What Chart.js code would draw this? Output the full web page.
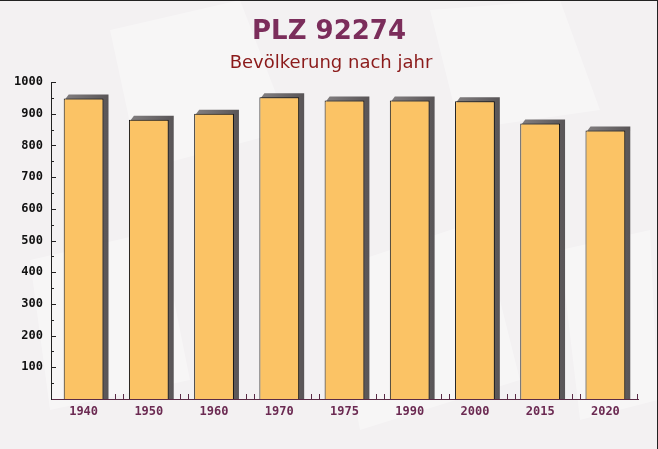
<!DOCTYPE html>
<html>
<head>
<meta charset="utf-8">
<script src="https://cdn.jsdelivr.net/npm/chart.js@4.4.0/dist/chart.umd.min.js"></script>
<style>
html,body{margin:0;padding:0;background:#f4f2f3;}
#wrap{position:relative;width:658px;height:449px;overflow:hidden;}
canvas{display:block;}
#frame{position:absolute;left:0;top:0;width:657px;height:448px;border-top:1px solid #222;border-right:1px solid #222;border-bottom:1px solid #222;box-sizing:content-box;pointer-events:none;}
</style>
</head>
<body>
<div id="wrap"><canvas id="c" width="658" height="449"></canvas><div id="frame"></div></div>
<script>
const titleText = "PLZ 92274";
const subtitleText = "Bevölkerung nach jahr";
const categories = ["1940", "1950", "1960", "1970", "1975", "1990", "2000", "2015", "2020"];
const population = [948, 881, 900, 952, 942, 942, 939, 869, 847];
const yTicks = [100, 200, 300, 400, 500, 600, 700, 800, 900, 1000];

const bgPlugin = {
  id: 'bg',
  beforeDraw(chart) {
    const ctx = chart.ctx;
    ctx.save();
    ctx.fillStyle = '#f3f1f2';
    ctx.fillRect(0, 0, chart.width, chart.height);
    ctx.fillStyle = 'rgba(255,255,255,0.35)';
    const polys = [
      [[110,30],[240,0],[290,130],[140,170]],
      [[430,10],[560,0],[600,110],[460,130]],
      [[30,260],[160,230],[190,380],[50,410]],
      [[330,270],[480,220],[520,380],[360,430]],
      [[560,250],[650,230],[658,400],[580,420]]
    ];
    polys.forEach(p => {
      ctx.beginPath();
      ctx.moveTo(p[0][0], p[0][1]);
      for (let i = 1; i < p.length; i++) ctx.lineTo(p[i][0], p[i][1]);
      ctx.closePath();
      ctx.fill();
    });
    ctx.restore();
  },
  afterDraw(chart) {
    const ctx = chart.ctx;
    ctx.save();
    ctx.textAlign = 'center';
    ctx.textBaseline = 'alphabetic';
    ctx.fillStyle = '#7b2d5b';
    ctx.font = 'bold 26px "DejaVu Sans"';
    ctx.fillText(titleText, 329, 39);
    ctx.fillStyle = '#8b1a1a';
    ctx.font = '18px "DejaVu Sans"';
    ctx.fillText(subtitleText, 331, 68);
    const ys = chart.scales.y, xs = chart.scales.x;
    const ax = chart.chartArea.left;
    ctx.strokeStyle = '#222';
    ctx.lineWidth = 1;
    for (let v = 50; v <= 1000; v += 50) {
      const py = Math.round(ys.getPixelForValue(v)) + 0.5;
      const len = (v % 100 === 0) ? 5 : 3;
      ctx.beginPath();
      ctx.moveTo(ax, py);
      ctx.lineTo(ax + len, py);
      ctx.stroke();
    }
    const by = chart.chartArea.bottom;
    ctx.strokeStyle = '#5a2a45';
    const half = (xs.getPixelForValue(1) - xs.getPixelForValue(0)) / 2;
    for (let i = 0; i < categories.length; i++) {
      const c = xs.getPixelForValue(i);
      [c + half - 1, c + half + 7].forEach(px => {
        if (px > chart.chartArea.right + 1) return;
        const x = Math.round(px) + 0.5;
        ctx.beginPath();
        ctx.moveTo(x, by);
        ctx.lineTo(x, by - 5);
        ctx.stroke();
      });
    }
    ctx.restore();
  }
};

const shadowPlugin = {
  id: 'barShadow',
  beforeDatasetsDraw(chart) {
    const ctx = chart.ctx;
    const meta = chart.getDatasetMeta(0);
    ctx.save();
    meta.data.forEach(bar => {
      const p = bar.getProps(['x', 'y', 'base', 'width'], true);
      const left = p.x - p.width / 2 + 2;
      const right = p.x + p.width / 2 + 5;
      const g = ctx.createLinearGradient(left, 0, right, 0);
      g.addColorStop(0, 'rgba(90,86,88,0.75)');
      g.addColorStop(1, 'rgba(80,76,78,0.95)');
      ctx.fillStyle = g;
      ctx.beginPath();
      ctx.moveTo(left, p.y);
      ctx.lineTo(left + 3, p.y - 4);
      ctx.lineTo(right, p.y - 4);
      ctx.lineTo(right, p.base);
      ctx.lineTo(left, p.base);
      ctx.closePath();
      ctx.fill();
    });
    ctx.restore();
  }
};

new Chart(document.getElementById('c'), {
  type: 'bar',
  data: {
    labels: categories,
    datasets: [{
      data: population,
      backgroundColor: '#fbc365',
      borderColor: '#111',
      borderWidth: 1,
      borderSkipped: 'bottom',
      barPercentage: 0.61,
      categoryPercentage: 1.0
    }]
  },
  options: {
    responsive: false,
    animation: false,
    devicePixelRatio: 1,
    layout: { padding: { left: 0, right: 20, top: 82, bottom: 0 } },
    plugins: { legend: { display: false }, tooltip: { enabled: false }, title: { display: false } },
    scales: {
      x: {
        grid: { display: false, drawTicks: false },
        border: { display: true, color: '#5a2a45', width: 1 },
        ticks: {
          color: '#6b2a52',
          font: { family: '"DejaVu Sans Mono"', weight: 'bold', size: 12 },
          padding: 6,
          maxRotation: 0
        },
        afterFit(s) { s.height = 50; }
      },
      y: {
        min: 0,
        max: 1000,
        grid: { display: false, drawTicks: false },
        border: { display: true, color: '#222', width: 1 },
        afterBuildTicks(s) { s.ticks = yTicks.map(v => ({ value: v })); },
        ticks: {
          color: '#111',
          font: { family: '"DejaVu Sans Mono"', weight: 'bold', size: 12 },
          padding: 8,
          callback: (v) => String(v)
        },
        afterFit(s) { s.width = 51; }
      }
    }
  },
  plugins: [bgPlugin, shadowPlugin]
});
</script>
</body>
</html>
